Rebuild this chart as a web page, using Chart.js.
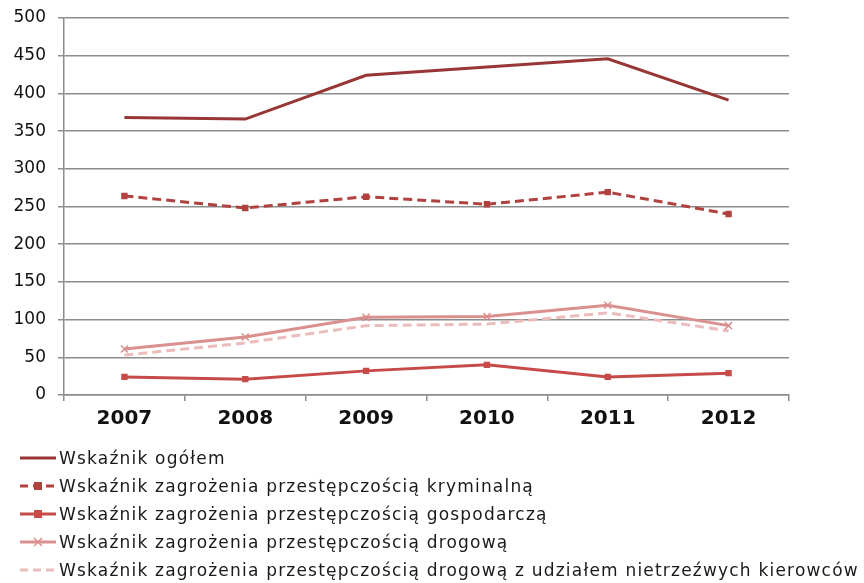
<!DOCTYPE html>
<html>
<head>
<meta charset="utf-8">
<script src="https://cdn.jsdelivr.net/npm/chart.js@4"></script>
<style>
  body { margin: 0; background: #fff; width: 864px; height: 583px; overflow: hidden; }
  #wrap { position: relative; width: 864px; height: 440px; }
  #legend { position: absolute; left: 20px; top: 444px; font-family: "DejaVu Sans", Verdana, sans-serif; font-size: 17px; letter-spacing: 1.2px; color: #1a1a1a; }
  #legend .item { height: 28px; display: flex; align-items: center; white-space: nowrap; }
  #legend canvas { margin-right: 3px; }
</style>
</head>
<body>
<div id="wrap"><canvas id="chart"></canvas></div>
<div id="legend"></div>
<script>
var years = ['2007', '2008', '2009', '2010', '2011', '2012'];
var yTicks = [0, 50, 100, 150, 200, 250, 300, 350, 400, 450, 500];

var ogolem = [368, 366, 424, 435, 446, 391];
var kryminalna = [264, 248, 263, 253, 269, 240];
var gospodarcza = [24, 21, 32, 40, 24, 29];
var drogowa = [61, 77, 103, 104, 119, 92];
var nietrzezwi = [53, 69, 92, 94, 109, 85];

var ctx = document.getElementById('chart').getContext('2d');
var myChart = new Chart(ctx, {
    type: 'line',
    data: {
        labels: years,
        datasets: [{
            label: 'Wskaźnik ogółem',
            data: ogolem,
            borderColor: '#973634',
            backgroundColor: '#973634',
            borderWidth: 3,
            pointRadius: 0
        },
        {
            label: 'Wskaźnik zagrożenia przestępczością kryminalną',
            data: kryminalna,
            borderColor: '#B0413F',
            backgroundColor: '#B0413F',
            borderWidth: 3,
            borderDash: [9, 5],
            pointStyle: 'rect',
            pointRadius: 4.5,
            pointBorderWidth: 0
        },
        {
            label: 'Wskaźnik zagrożenia przestępczością gospodarczą',
            data: gospodarcza,
            borderColor: '#C64A47',
            backgroundColor: '#C64A47',
            borderWidth: 3,
            pointStyle: 'rect',
            pointRadius: 4.5,
            pointBorderWidth: 0
        },
        {
            label: 'Wskaźnik zagrożenia przestępczością drogową',
            data: drogowa,
            borderColor: '#D9908E',
            backgroundColor: '#D9908E',
            borderWidth: 3,
            pointStyle: 'crossRot',
            pointRadius: 5,
            pointBorderWidth: 1.5
        },
        {
            label: 'Wskaźnik zagrożenia przestępczością drogową z udziałem nietrzeźwych kierowców',
            data: nietrzezwi,
            borderColor: '#EABDBC',
            backgroundColor: '#EABDBC',
            borderWidth: 3,
            borderDash: [9, 5],
            pointRadius: 0
        }]
    },
    options: {
        responsive: true,
        maintainAspectRatio: false,
        animation: false,
        layout: { padding: { left: 0, right: 75, top: 18, bottom: 0 } },
        plugins: {
            legend: { display: false },
            tooltip: { enabled: false }
        },
        scales: {
            x: {
                offset: true,
                afterFit: function(scale) { scale.height = 45; },
                grid: {
                    offset: true,
                    drawOnChartArea: false,
                    color: '#8c8c8c',
                    lineWidth: 1.5,
                    tickLength: 6
                },
                border: { color: '#8c8c8c', width: 1.5 },
                ticks: {
                    color: '#111',
                    padding: 6,
                    font: { family: 'DejaVu Sans', size: 20, weight: 'bold' }
                }
            },
            y: {
                min: 0,
                max: 500,
                afterFit: function(scale) {
                    scale.width = 64;
                    scale.paddingTop = 0;
                    scale.paddingBottom = 0;
                },
                afterBuildTicks: function(scale) {
                    scale.ticks = yTicks.map(function(v) { return { value: v }; });
                },
                grid: {
                    color: '#8c8c8c',
                    lineWidth: 1.5,
                    tickLength: 6
                },
                border: { color: '#8c8c8c', width: 1.5 },
                ticks: {
                    color: '#111',
                    padding: 12,
                    font: { family: 'DejaVu Sans', size: 17 }
                }
            }
        }
    }
});

// legend: one entry per row, swatch drawn in the dataset style
var legend = document.getElementById('legend');
myChart.data.datasets.forEach(function(ds) {
    var item = document.createElement('div');
    item.className = 'item';
    var sw = document.createElement('canvas');
    sw.width = 36; sw.height = 14;
    var c = sw.getContext('2d');
    c.strokeStyle = ds.borderColor;
    c.lineWidth = 3;
    c.setLineDash(ds.borderDash ? [8, 5] : []);
    c.beginPath(); c.moveTo(0, 7); c.lineTo(36, 7); c.stroke();
    c.setLineDash([]);
    if (ds.pointStyle === 'rect') {
        c.fillStyle = ds.backgroundColor;
        c.fillRect(14, 3, 8, 8);
    } else if (ds.pointStyle === 'crossRot') {
        c.lineWidth = 1.5;
        c.beginPath();
        c.moveTo(14, 3); c.lineTo(22, 11);
        c.moveTo(22, 3); c.lineTo(14, 11);
        c.stroke();
    }
    item.appendChild(sw);
    var txt = document.createElement('span');
    txt.textContent = ds.label;
    item.appendChild(txt);
    legend.appendChild(item);
});
</script>
</body>
</html>
